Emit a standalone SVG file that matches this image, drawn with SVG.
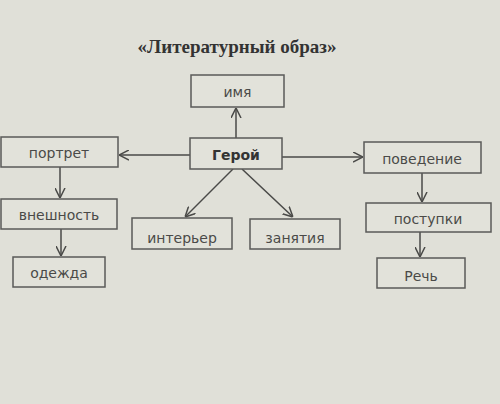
<svg xmlns="http://www.w3.org/2000/svg" width="500" height="404" viewBox="0 0 500 404">
<style>
.box{fill:#e2e2da;stroke:#5a5a58;stroke-width:1.5}
.lbl{font-family:"DejaVu Sans",Verdana,sans-serif;font-size:14px;fill:#4a4a48;text-anchor:middle;dominant-baseline:central}
.con{stroke:#4a4a48;stroke-width:1.5;fill:none;marker-end:url(#arr)}
</style>
<defs>
<marker id="arr" viewBox="0 0 10 10" refX="10" refY="5" markerWidth="10" markerHeight="11" markerUnits="userSpaceOnUse" orient="auto">
<path d="M0,0 L10,5 L0,10" fill="none" stroke="#4a4a48" stroke-width="1.5"/>
</marker>
</defs>
<rect width="500" height="404" fill="#e0e0d8"/>
<text x="237" y="46" font-family="Liberation Serif,serif" font-weight="bold" font-size="19" fill="#333" text-anchor="middle" dominant-baseline="central">«Литературный образ»</text>
<g id="connectors">
<line class="con" x1="236" y1="138" x2="236" y2="108"/>
<line class="con" x1="190" y1="155" x2="119" y2="155"/>
<line class="con" x1="282" y1="157" x2="363" y2="157"/>
<line class="con" x1="60" y1="167" x2="60" y2="198"/>
<line class="con" x1="61" y1="229" x2="61" y2="256"/>
<line class="con" x1="233" y1="169" x2="185" y2="217"/>
<line class="con" x1="242" y1="169" x2="293" y2="217"/>
<line class="con" x1="422" y1="173" x2="422" y2="202"/>
<line class="con" x1="420" y1="232" x2="420" y2="257"/>
</g>
<g id="imya"><rect class="box" x="191" y="75" width="93" height="32"/><text class="lbl" x="237.5" y="92">имя</text></g>
<g id="geroy"><rect class="box" x="190" y="138" width="92" height="31"/><text class="lbl" x="236" y="155" font-weight="bold" style="font-size:14px;fill:#333">Герой</text></g>
<g id="portret"><rect class="box" x="1" y="137" width="117" height="30"/><text class="lbl" x="59" y="153">портрет</text></g>
<g id="povedenie"><rect class="box" x="364" y="142" width="117" height="31"/><text class="lbl" x="422" y="159">поведение</text></g>
<g id="vneshnost"><rect class="box" x="1" y="199" width="116" height="30"/><text class="lbl" x="59" y="215">внешность</text></g>
<g id="odezhda"><rect class="box" x="13" y="257" width="92" height="30"/><text class="lbl" x="59" y="273">одежда</text></g>
<g id="interyer"><rect class="box" x="132" y="218" width="100" height="31"/><text class="lbl" x="182" y="238">интерьер</text></g>
<g id="zanyatiya"><rect class="box" x="250" y="219" width="90" height="30"/><text class="lbl" x="295" y="238">занятия</text></g>
<g id="postupki"><rect class="box" x="366" y="203" width="125" height="29"/><text class="lbl" x="428" y="219">поступки</text></g>
<g id="rech"><rect class="box" x="377" y="258" width="88" height="30"/><text class="lbl" x="421" y="276">Речь</text></g>
</svg>
